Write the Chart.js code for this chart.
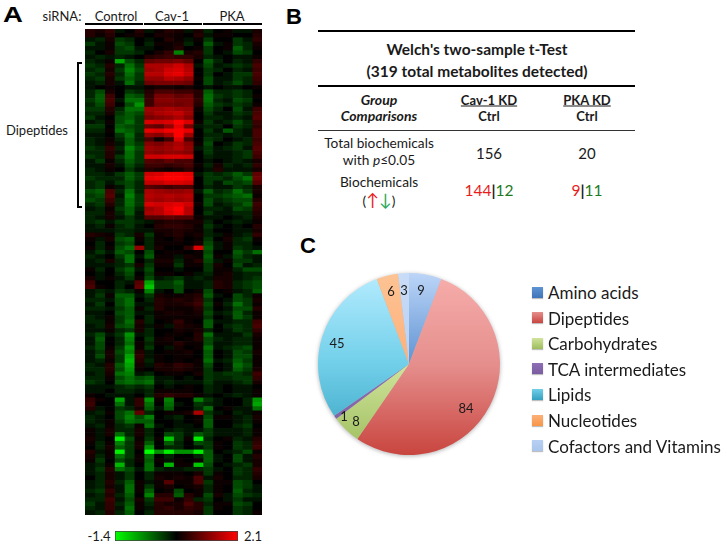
<!DOCTYPE html>
<html>
<head>
<meta charset="utf-8">
<title>Metabolite heatmap</title>
<script src="https://cdn.jsdelivr.net/npm/chart.js@4/dist/chart.umd.min.js"></script>
<style>
    html, body { margin: 0; padding: 0; background: #fff; }
    body { width: 727px; height: 547px; position: relative; overflow: hidden; font-family: Lato, sans-serif; color: #1a1a1a; }
    canvas { position: absolute; }
    .t { position: absolute; transform: translate(-50%, -50%); white-space: nowrap; line-height: 1; }
    .l { position: absolute; transform: translateY(-50%); white-space: nowrap; line-height: 1; }
    .letter { font-family: "Liberation Sans", Arial, sans-serif; font-weight: bold; font-size: 22px; color: #000; }
    .rule { position: absolute; background: #000; }
    .b { font-weight: bold; }
    .swatch { position: absolute; width: 11px; height: 11px; box-shadow: 0 1px 1px rgba(0,0,0,.25); }
    .up { color: #e81c1c; }
    .down { color: #1f7a1f; }
    #heat { filter: blur(0.6px); }
    #pie { filter: drop-shadow(0 1px 2px rgba(0,0,0,.3)); }
</style>
</head>
<body>
<canvas id="heat" width="177" height="486" style="left:85px;top:29px"></canvas>
<canvas id="scale" width="125" height="12" style="left:114px;top:530px"></canvas>
<canvas id="pie" width="200" height="200" style="left:309px;top:264px"></canvas>

<!-- Panel A -->
<div class="t letter" style="left:13px;top:15px;transform:translate(-50%,-50%) scaleX(1.25)">A</div>
<div class="t" style="left:62px;top:16px;font-size:13px">siRNA:</div>
<div class="t" style="left:116px;top:16px;font-size:13px">Control</div>
<div class="t" style="left:172px;top:16px;font-size:13px">Cav-1</div>
<div class="t" style="left:232px;top:16px;font-size:13px">PKA</div>
<div class="rule" style="left:85px;top:23px;width:58px;height:1.5px"></div>
<div class="rule" style="left:144px;top:23px;width:58px;height:1.5px"></div>
<div class="rule" style="left:203px;top:23px;width:59px;height:1.5px"></div>
<div class="t" style="left:37px;top:130px;font-size:13px">Dipeptides</div>
<div class="rule" style="left:77px;top:62px;width:5px;height:2px"></div>
<div class="rule" style="left:77px;top:62px;width:2px;height:146px"></div>
<div class="rule" style="left:77px;top:206px;width:5px;height:2px"></div>
<div class="t" style="left:99px;top:536px;font-size:13px">-1.4</div>
<div class="t" style="left:253px;top:536px;font-size:13px">2.1</div>

<!-- Panel B -->
<div class="t letter" style="left:294px;top:17px">B</div>
<div class="rule" style="left:318px;top:30px;width:317px;height:2px"></div>
<div class="t b" style="left:477px;top:50px;font-size:15.5px">Welch's two-sample t-Test</div>
<div class="t b" style="left:477px;top:72px;font-size:15.5px">(319 total metabolites detected)</div>
<div class="rule" style="left:318px;top:85px;width:317px;height:2px"></div>
<div class="t b" style="left:379px;top:100px;font-size:14px;font-style:italic">Group</div>
<div class="t b" style="left:379px;top:116px;font-size:14px;font-style:italic">Comparisons</div>
<div class="t b" style="left:489px;top:100px;font-size:13px;text-decoration:underline">Cav-1 KD</div>
<div class="t b" style="left:489px;top:116px;font-size:13px">Ctrl</div>
<div class="t b" style="left:587px;top:100px;font-size:13px;text-decoration:underline">PKA KD</div>
<div class="t b" style="left:587px;top:116px;font-size:13px">Ctrl</div>
<div class="rule" style="left:318px;top:130px;width:317px;height:1px;background:#333"></div>
<div class="t" style="left:379px;top:143px;font-size:13.7px">Total biochemicals</div>
<div class="t" style="left:379px;top:160px;font-size:13.7px">with <i>p</i>≤0.05</div>
<div class="t" style="left:489px;top:153px;font-size:15px">156</div>
<div class="t" style="left:587px;top:153px;font-size:15px">20</div>
<div class="t" style="left:379px;top:182px;font-size:13.7px">Biochemicals</div>
<div class="t" style="left:379px;top:199px;font-size:13.7px">(<span class="up" style="font-size:17px">↑</span><span style="color:#2aa85a;font-size:17px">↓</span>)</div>
<div class="t" style="left:489px;top:191px;font-size:15.5px"><span class="up">144</span><b>|</b><span class="down">12</span></div>
<div class="t" style="left:587px;top:191px;font-size:15.5px"><span class="up">9</span><b>|</b><span class="down">11</span></div>

<!-- Panel C -->
<div class="t letter" style="left:308px;top:246px">C</div>
<div id="pieText"></div>

<script>
// Heatmap: one row per line, 18 samples (Control, Cav-1, PKA), tenths of the colour scale
const heatRows = [
    [3,2,4,-1,0,3,-1,1,3,2,-1,2,-2,0,1,-1,-1,2],
    [3,1,3,0,1,2,0,2,2,1,0,3,-1,1,1,0,0,3],
    [-1,-2,2,-3,-2,0,-1,0,3,1,-1,1,-3,0,0,-3,-1,4],
    [-3,-1,1,-4,-3,0,-2,1,1,2,-2,0,-5,-1,1,-3,-2,2],
    [-1,-1,1,-3,-4,-1,-1,0,1,3,0,1,-3,0,1,-5,-2,1],
    [-2,0,2,-3,-3,-2,0,2,4,-7,2,3,-3,0,-1,-4,-3,0],
    [-1,-2,-1,-2,-1,0,3,4,5,4,4,2,-2,-1,0,-1,-1,1],
    [-2,-1,1,-9,-4,-2,8,9,9,10,8,0,-5,-2,0,-2,-1,4],
    [-3,-2,3,-2,-6,-3,14,14,15,17,14,-1,-4,-1,-2,-3,-2,6],
    [-2,-3,2,-3,-7,-4,13,14,17,18,15,0,-3,-2,0,-2,-1,5],
    [-3,-2,3,-2,-6,-3,15,15,18,19,16,0,-3,0,-1,-3,-3,6],
    [-2,-3,2,-3,-5,-3,12,12,15,14,12,1,-4,-1,-1,-3,-2,5],
    [-1,-2,2,-1,-6,-2,9,10,10,10,9,0,-4,-1,-2,-4,-2,4],
    [-1,0,1,0,-1,-1,1,2,2,1,2,0,-1,0,-1,-1,0,1],
    [-2,-4,2,0,-3,-2,3,6,6,5,5,3,-5,-2,-2,-3,-2,0],
    [-2,-5,5,0,-5,-4,4,10,10,8,9,3,-6,-3,-2,-3,-2,1],
    [-3,-5,6,-1,-6,-6,5,11,11,10,10,4,-6,-2,-1,-4,-3,0],
    [-2,-4,5,0,-4,-8,5,10,10,9,10,3,-5,-3,-2,-3,-2,1],
    [-3,-3,3,-2,-6,-6,13,13,14,13,12,1,-4,-2,0,-4,-1,5],
    [-2,-2,2,-3,-5,-4,12,14,15,16,13,0,-3,-1,-1,-3,-2,6],
    [-3,-1,0,-4,-5,-3,10,11,12,14,11,0,-2,-2,-1,-2,-1,7],
    [-1,-2,1,-4,-6,-3,18,17,18,21,18,1,-3,-1,-2,-4,-2,5],
    [-3,-3,0,-5,-4,-3,9,8,12,19,10,-1,-2,-2,0,-3,-2,4],
    [-2,-2,1,-6,-5,-3,19,18,20,21,19,0,-3,-1,-5,-2,-1,6],
    [-1,-1,0,-3,-6,-2,12,11,14,21,13,0,-2,-2,-1,-2,-1,6],
    [-2,-1,1,-2,-5,-2,6,1,5,18,6,0,-3,-2,0,-1,-2,5],
    [-2,-1,2,-1,-5,-3,11,10,12,14,11,1,-4,0,-1,-3,-2,6],
    [-3,-2,4,-2,-7,-4,13,12,13,15,12,-1,-3,-1,-2,-3,-1,7],
    [-2,-2,3,-1,-6,-3,12,11,12,12,11,0,-3,-1,-1,-2,-3,6],
    [-3,-2,3,-3,-6,-3,17,17,18,18,17,0,-2,-1,-1,-2,-3,5],
    [-1,-3,1,-2,-5,-3,7,6,8,6,6,0,-1,0,-1,-2,-1,2],
    [-1,-1,2,-1,-4,-2,5,5,4,5,6,1,-2,2,-2,-1,-2,4],
    [-2,-1,1,0,-3,-1,3,2,1,2,4,0,-1,3,-1,-1,-1,2],
    [-2,-2,-1,-3,-5,-3,17,18,20,20,19,-1,-3,-2,-3,-5,-3,8],
    [-3,-2,-2,-2,-5,-3,19,20,21,21,20,0,-3,-3,-2,-4,-6,9],
    [-2,-3,-1,-3,-4,-2,16,16,18,18,17,0,-3,-1,-4,-3,-4,7],
    [-2,-3,1,-1,-4,-2,7,6,5,6,6,0,-2,-1,-1,-3,-2,2],
    [-4,-5,6,-2,-6,-2,14,13,12,12,13,-1,-5,-2,-3,-6,-3,2],
    [-3,-4,7,-1,-7,-3,15,14,15,14,15,0,-3,-3,-4,-5,-6,1],
    [-4,-3,5,-2,-6,-3,14,13,14,13,14,0,-4,-2,-3,-4,-4,3],
    [-2,-3,3,-2,-6,-3,18,17,18,19,17,1,-4,-1,-2,-3,-5,5],
    [-1,-2,1,-3,-5,-2,13,15,19,21,15,0,-2,-2,-1,-4,-3,4],
    [-2,-2,2,-2,-5,-1,14,15,18,20,15,0,-3,-1,-1,-2,-2,3],
    [-2,-1,2,-1,-3,-1,7,7,8,7,7,1,-1,-1,0,-1,-2,2],
    [-2,-3,-1,-3,-3,-2,-1,2,3,3,2,2,-2,0,-1,-2,-1,1],
    [-1,-2,1,-2,-3,-1,0,3,4,4,3,1,-3,-1,0,-1,0,3],
    [-1,-1,-1,-2,-2,-1,-1,2,2,3,2,1,-2,0,0,-1,-1,2],
    [3,2,1,-3,-2,2,-3,1,2,3,1,2,-2,-1,1,-1,-2,4],
    [1,-1,2,-4,-5,1,-2,1,0,2,0,1,-3,0,2,-2,-3,1],
    [0,-2,0,-3,-4,0,-2,1,1,1,0,2,-4,-1,1,-2,-2,0],
    [1,-2,1,-4,-6,12,-2,2,0,0,4,18,-5,-1,1,-3,-2,-1],
    [-1,-3,-1,-5,-4,0,-4,0,1,1,0,1,-4,0,0,-5,-3,-6],
    [-2,-1,0,-3,-6,-1,-5,1,1,-1,2,1,-5,1,-1,-4,-2,-1],
    [-1,-2,2,-2,-6,0,-2,2,2,-2,1,3,-4,-1,1,-3,-3,-1],
    [-1,-1,-1,-2,-3,2,-3,1,1,-3,1,1,-3,2,0,-4,-1,-2],
    [1,-2,0,-3,-5,-1,-4,0,0,-1,0,0,-3,1,1,-2,-4,-4],
    [0,-1,0,-2,-4,0,-3,1,1,0,1,-1,-2,1,2,-1,-2,-2],
    [2,-1,1,-1,-3,1,-4,-1,-2,-3,-1,-2,-1,2,2,-1,-2,-3],
    [5,0,0,-2,-1,7,-9,-3,-3,-5,-1,-1,-2,3,2,-2,-3,-4],
    [6,1,0,-2,0,8,-11,-3,-3,-4,-1,-1,-2,3,2,-2,-3,-4],
    [-1,-2,-1,-3,-2,1,-7,-1,0,-4,0,1,-4,0,1,-1,-2,-5],
    [-1,-3,1,-5,-5,-1,-3,2,1,1,2,3,-5,-1,0,-4,-2,1],
    [-2,-2,-1,-4,-6,0,-2,3,2,3,2,4,-3,0,-1,-4,-3,2],
    [-1,-3,0,-4,-6,-1,-1,3,2,2,3,5,-4,1,-2,-6,-3,1],
    [-2,-2,-1,-3,-5,1,-2,3,1,1,1,3,-3,0,-1,-4,-4,3],
    [-1,-1,0,-4,-5,-1,-1,1,2,2,1,2,-4,-1,-2,-5,-2,1],
    [-2,-1,1,-3,-5,0,-2,1,1,1,1,1,-3,0,-1,-5,-3,1],
    [-2,-2,1,-3,-6,3,-2,0,1,4,1,0,-5,-1,-1,-2,-2,5],
    [-1,-2,2,-4,-5,2,-1,1,-1,3,2,1,-5,0,-2,-3,-2,6],
    [-1,-1,1,-2,-3,2,-2,0,0,2,1,2,-2,0,-1,-3,-2,4],
    [-2,-4,-1,-3,-8,-1,-2,0,1,1,0,3,-6,-1,-1,-1,-3,2],
    [-1,-5,0,-2,-7,0,-3,1,2,0,1,3,-4,-2,-1,-2,-2,1],
    [-1,-4,0,-2,-6,1,-2,1,1,3,1,1,-4,-1,-1,-2,-2,1],
    [-2,-4,1,-3,-8,1,-3,0,-1,2,0,1,-6,-1,-2,-3,-4,1],
    [-1,-3,2,-4,-7,3,-1,0,1,1,2,0,-5,0,-1,-4,-3,2],
    [-1,-4,2,-3,-9,4,-1,1,0,1,1,0,-5,0,-1,-4,-4,1],
    [-1,-2,1,-3,-10,3,-2,1,0,1,0,1,-6,-1,-2,-5,-3,1],
    [-2,-1,3,-5,-9,2,-1,3,2,4,3,1,-4,0,-1,-6,-4,1],
    [-2,-2,3,-4,-8,1,0,2,2,3,2,1,-3,0,-1,-5,-3,2],
    [-1,-2,2,-6,-7,-1,-2,0,1,1,0,2,-3,-2,-3,-3,-2,5],
    [-2,-2,1,-4,-6,-4,-5,-1,-1,0,-1,0,-3,-2,-2,-3,-3,4],
    [-3,-2,0,-5,-6,-5,-6,-1,-2,-1,-1,-1,-3,-1,-1,-2,-3,2],
    [-1,-1,-1,-2,-3,-2,-3,0,-1,0,1,0,-2,-1,0,-1,-1,0],
    [-1,-1,0,-2,-2,-1,-2,1,1,1,1,0,-2,-1,0,-1,-1,1],
    [1,0,-1,-1,-1,0,-2,3,4,3,3,1,-1,0,-1,-2,-1,1],
    [4,1,0,-9,-1,4,-8,1,-7,0,0,-7,-3,-1,0,0,-2,-8],
    [5,0,0,-6,-1,4,-6,0,-6,-1,0,-3,-2,-1,0,0,-2,-9],
    [3,-1,0,-3,-2,2,-5,-1,-5,0,0,-2,-6,0,1,-1,-1,-6],
    [-1,-2,1,-4,-6,8,-2,0,1,1,2,14,-3,-1,0,-2,-1,1],
    [-2,-1,0,-4,-7,-4,-7,0,-1,-2,0,1,-4,1,1,-1,-2,2],
    [-2,-1,1,-3,-6,-5,-5,0,0,-1,0,1,-5,0,0,-1,-2,1],
    [-1,-2,1,-2,-3,1,-6,-1,0,-1,-1,0,-5,0,0,-2,-3,0],
    [1,-1,2,-2,-2,2,-2,0,-1,-2,-1,-1,-3,-1,-1,-1,-2,1],
    [1,-1,2,-6,-2,2,-2,0,-4,-3,-1,-5,-3,-1,-1,-1,-2,1],
    [2,-1,0,-13,-4,1,-3,1,-11,-3,1,-13,-2,0,1,-2,-1,3],
    [1,-2,1,-7,-3,2,-5,0,-5,-2,0,-4,-3,1,0,-3,-2,4],
    [0,-2,2,-5,-3,2,-8,0,-2,-2,0,-1,-3,1,0,-3,-2,5],
    [3,-1,1,-13,-3,0,-14,-8,-13,-8,-8,-13,-5,0,-1,-2,-4,1],
    [2,-2,1,-6,-3,1,-6,0,-2,0,0,-2,-5,-1,0,-4,-1,3],
    [1,-3,0,-4,-2,1,-5,1,-1,1,0,1,-5,-1,0,-4,-1,2],
    [-1,-2,1,-10,-2,0,-6,0,-10,1,1,-11,-4,0,-1,-2,-3,2],
    [-1,-3,3,-6,-4,-1,-6,-2,-1,-1,-2,-2,-3,-1,0,-3,-2,4],
    [-1,-2,2,-1,-3,0,-2,1,1,1,0,2,-3,1,0,-3,-2,3],
    [0,-2,2,-1,-3,0,-2,2,1,2,1,6,-1,2,0,-2,-2,2],
    [-1,-2,3,-2,-5,1,-1,1,7,1,1,6,-3,1,1,-4,-3,0],
    [-1,-2,2,-1,-6,1,-3,1,2,0,1,2,-2,1,0,-4,-3,-1],
    [-2,-3,4,-1,-6,1,-5,0,1,-4,0,1,-2,1,0,-5,-2,-1],
    [-1,-2,3,-2,-5,0,-7,3,3,-5,3,1,-4,2,-1,-4,-3,-2],
    [-2,-2,5,-1,-4,2,-3,5,5,1,4,-2,-3,0,-1,-3,-1,-1],
    [-3,-1,4,-2,-5,1,-2,3,2,2,6,3,-2,1,1,-4,-3,0],
    [-2,-1,4,-1,-6,1,-1,3,4,2,4,3,-3,1,0,-3,-2,0],
    [-1,-2,3,-2,-5,0,-2,3,3,3,3,2,-3,0,0,-3,-2,1]
];
const sampleCount = 18;
const scaleRange = [-1.4, 2.1];
const scaleValues = [[-1.4, 2.1]];

// Tarta de metabolitos
const pieLabels = ['Amino acids', 'Dipeptides', 'Carbohydrates', 'TCA intermediates', 'Lipids', 'Nucleotides', 'Cofactors and Vitamins'];
const pieValues = [9, 84, 8, 1, 45, 6, 3];
const pieTop = ['#bcd5f7', '#f7aeac', '#dcecb0', '#a98fca', '#b5ecff', '#fdc394', '#c9dcf7'];
const pieMid = ['#5f93d3', '#e58f8d', '#d0e49c', '#8e6fb5', '#71cfe9', '#fdb07a', '#b8d0f2'];
const pieEnd = ['#3f74b8', '#c9453f', '#9dbd5c', '#7a5ca0', '#35a0bf', '#f79646', '#a9c5ec'];
const pieLabelPos = [[421, 290], [466, 408], [356, 421], [344, 416], [337, 343], [391, 291], [404, 290]];

function heatColor(v) {
    if (v < 0) return `rgb(0,${Math.round(255 * -v / 14)},0)`;
    return `rgb(${Math.round(255 * v / 21)},0,0)`;
}

// Heatmap como barras horizontales apiladas, una pila por fila
function createHeatmap() {
    const rowLabels = heatRows.map((_, i) => i);
    const datasets = [];
    for (let col = 0; col < sampleCount; col++) {
        datasets.push({
            data: heatRows.map(() => 1),
            backgroundColor: heatRows.map(row => heatColor(row[col])),
            borderWidth: 0,
            barPercentage: 1,
            categoryPercentage: 1,
        });
    }
    new Chart(document.getElementById('heat'), {
        type: 'bar',
        data: { labels: rowLabels, datasets },
        options: {
            indexAxis: 'y',
            responsive: false,
            animation: false,
            plugins: { legend: { display: false }, tooltip: { enabled: false } },
            scales: {
                x: { display: false, stacked: true, min: 0, max: sampleCount },
                y: { display: false, stacked: true },
            },
        },
    });
}

function createColorScale() {
    new Chart(document.getElementById('scale'), {
        type: 'bar',
        data: {
            labels: ['scale'],
            datasets: [{
                data: scaleValues,
                backgroundColor: ctx => {
                    const area = ctx.chart.chartArea;
                    if (!area) return '#000';
                    const g = ctx.chart.ctx.createLinearGradient(area.left, 0, area.right, 0);
                    g.addColorStop(0, '#00ff00');
                    g.addColorStop(0.5, '#000000');
                    g.addColorStop(1, '#ff0000');
                    return g;
                },
                borderColor: '#444',
                borderWidth: 1,
                borderSkipped: false,
                barPercentage: 1,
                categoryPercentage: 1,
            }],
        },
        options: {
            indexAxis: 'y',
            responsive: false,
            animation: false,
            layout: { padding: 1 },
            plugins: { legend: { display: false }, tooltip: { enabled: false } },
            scales: {
                x: { display: false, min: scaleRange[0], max: scaleRange[1] },
                y: { display: false },
            },
        },
    });
}

function createPie() {
    new Chart(document.getElementById('pie'), {
        type: 'pie',
        data: {
            labels: pieLabels,
            datasets: [{
                data: pieValues,
                borderWidth: 0,
                backgroundColor: ctx => {
                    const g = ctx.chart.ctx.createLinearGradient(0, 9, 0, 191);
                    g.addColorStop(0, pieTop[ctx.dataIndex]);
                    g.addColorStop(0.5, pieMid[ctx.dataIndex]);
                    g.addColorStop(1, pieEnd[ctx.dataIndex]);
                    return g;
                },
            }],
        },
        options: {
            responsive: false,
            animation: false,
            radius: 91,
            plugins: { legend: { display: false }, tooltip: { enabled: false } },
        },
    });
}

// Etiquetas de valores y leyenda
function createPieText() {
    const holder = document.getElementById('pieText');
    let html = '';
    pieValues.forEach((v, i) => {
        html += `<div class="t" style="left:${pieLabelPos[i][0]}px;top:${pieLabelPos[i][1]}px;font-size:13px">${v}</div>`;
    });
    pieLabels.forEach((label, i) => {
        const y = 292 + i * 25.6;
        html += `<div class="swatch" style="left:532px;top:${y - 5.5}px;background:linear-gradient(${pieMid[i]},${pieEnd[i]})"></div>`;
        html += `<div class="l" style="left:548px;top:${y}px;font-size:17px">${label}</div>`;
    });
    holder.innerHTML = html;
}

createHeatmap();
createColorScale();
createPie();
createPieText();
</script>
</body>
</html>
